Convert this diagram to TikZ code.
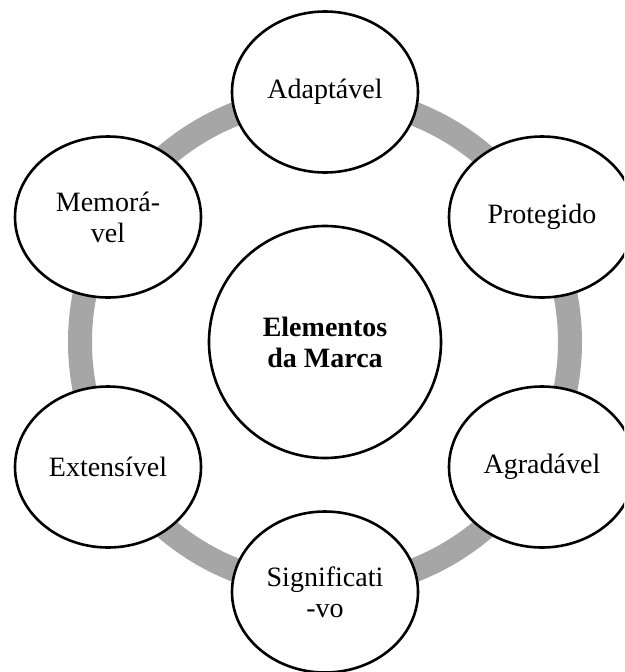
\documentclass[tikz,border=0pt]{standalone}
\usepackage{fontspec}
\setmainfont{Liberation Serif}
\usetikzlibrary{shapes.geometric}
\definecolor{ringgray}{RGB}{166,166,166}
\tikzset{
  item/.style={ellipse, draw=black, line width=2.6pt, fill=white, minimum width=186pt, minimum height=161pt, inner sep=0pt, align=center, font=\fontsize{28}{31}\selectfont},
  hub/.style={circle, draw=black, line width=2.6pt, fill=white, minimum size=232pt, inner sep=0pt, align=center, font=\fontsize{28}{31}\selectfont\bfseries},
  ring/.style={draw=ringgray, line width=24pt}
}
\begin{document}
\begin{tikzpicture}[x=1pt,y=-1pt]
\useasboundingbox (0,0) rectangle (624,672);
\clip (0,0) rectangle (624,672);
\coordinate (c) at (325,342);
\draw[ring] (c) circle (245);
\node[hub] (hub) at (c) {Elementos\\da Marca};
\node[item] (a) at (325,92) {Adaptável};
\node[item] (p) at (542,217) {Protegido};
\node[item] (g) at (542,467) {Agradável};
\node[item] (s) at (325,592) {Significati\\-vo};
\node[item] (e) at (108,467) {Extensível};
\node[item] (m) at (108,217) {Memorá-\\vel};
\end{tikzpicture}
\end{document}
